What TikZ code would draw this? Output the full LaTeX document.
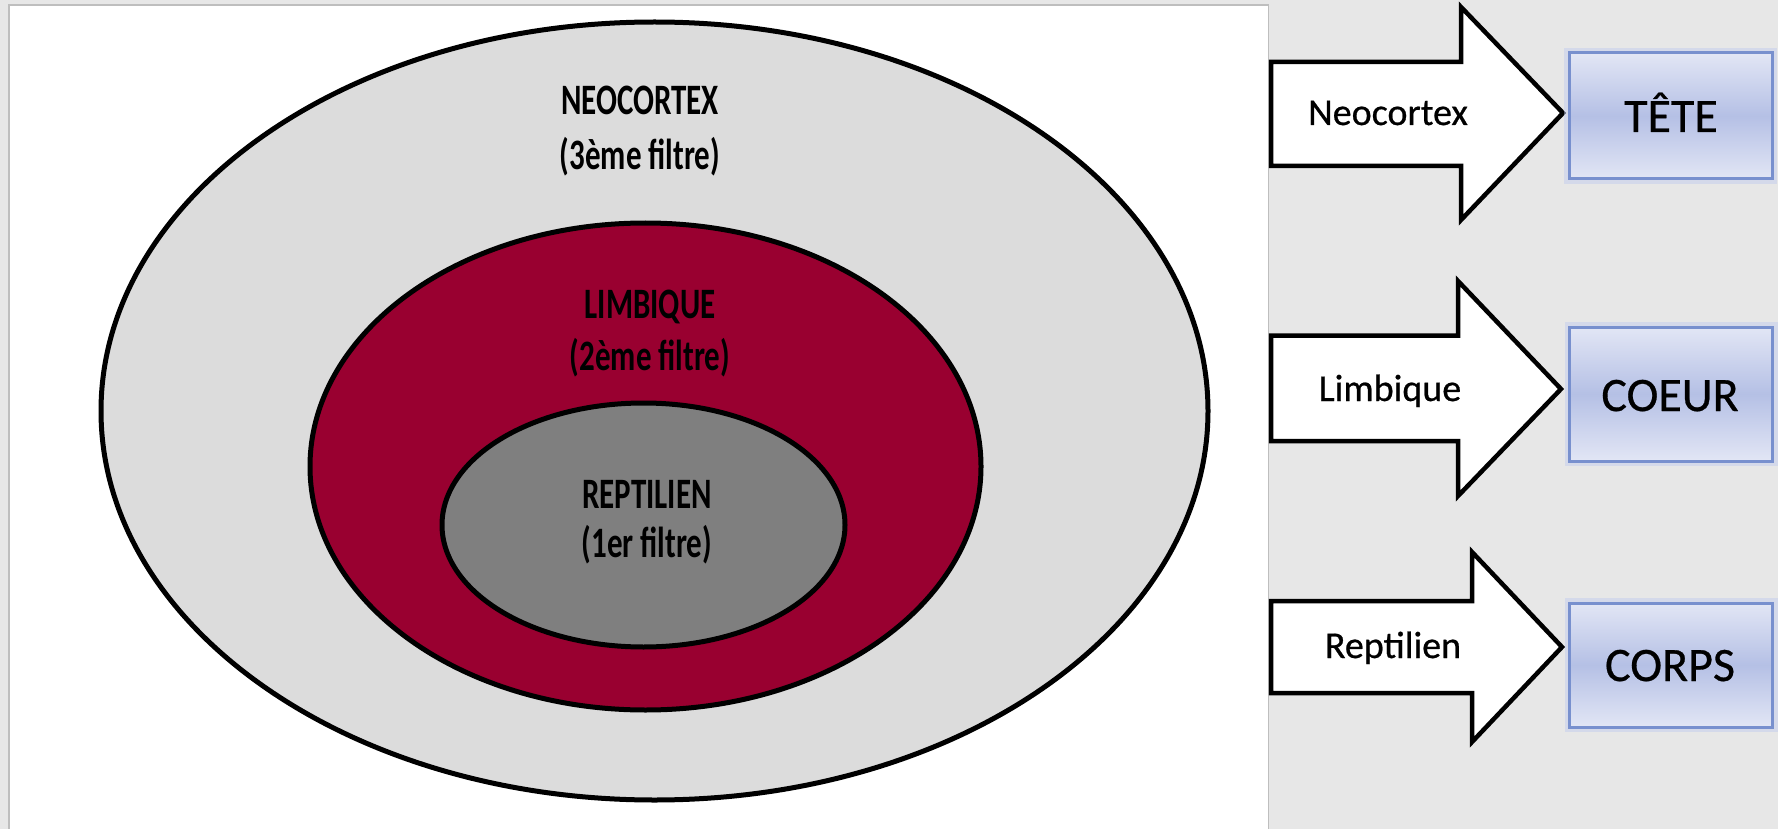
\documentclass[tikz,border=0pt]{standalone}
\usepackage{fontspec}
\setmainfont{Carlito}
\newfontfamily\heavyfont{Carlito}[FakeBold=0.6]
\usepackage{graphicx}
\usetikzlibrary{shapes.geometric}
\definecolor{bg}{RGB}{231,231,231}
\definecolor{panelborder}{RGB}{190,190,190}
\definecolor{outergray}{RGB}{220,220,220}
\definecolor{limbred}{RGB}{153,0,48}
\definecolor{reptgray}{RGB}{127,127,127}
\definecolor{boxlight}{RGB}{226,230,245}
\definecolor{boxmid}{RGB}{181,192,229}
\definecolor{boxborder}{RGB}{120,144,206}
\definecolor{boxglow}{RGB}{190,202,238}
\tikzset{
  layer/.style={ellipse, draw=black, line width=5pt, inner sep=0pt},
  lbl/.style={font=\fontsize{31}{31}\selectfont\bfseries, anchor=base, inner sep=0pt},
  arrowlbl/.style={font=\fontsize{38}{38}\selectfont\heavyfont, anchor=base, inner sep=0pt},
  boxlbl/.style={font=\fontsize{48}{48}\selectfont\heavyfont, anchor=base, inner sep=0pt},
  blockarrow/.style={draw=black, fill=white, line width=4.5pt, line join=miter},
  targetbox/.style={rectangle, draw=boxborder, line width=3pt, inner sep=0pt,
    top color=boxlight, bottom color=boxlight, middle color=boxmid,
    minimum width=203pt, minimum height=126pt,
    preaction={draw=boxglow, line width=10pt, opacity=0.45}}
}
\begin{document}
\begin{tikzpicture}[x=1pt,y=-1pt]
\useasboundingbox (0,0) rectangle (1778,829);
\fill[bg] (0,0) rectangle (1778,829);
\draw[draw=panelborder, line width=1.5pt, fill=white] (9,5) rectangle (1268.5,840);

% nested layers
\node[layer, fill=outergray, minimum width=1107pt, minimum height=778pt] (neo) at (654.5,411) {};
\node[layer, fill=limbred, minimum width=671pt, minimum height=487pt] (limb) at (645.5,466.5) {};
\node[layer, fill=reptgray, minimum width=403pt, minimum height=244pt] (rept) at (643.5,525) {};

\node[lbl] (neoA) at (640,115) {\scalebox{1}[1.4]{NEOCORTEX}};
\node[lbl] (neoB) at (640,170) {\scalebox{1}[1.4]{(3ème filtre)}};
\node[lbl] (limbA) at (650,318) {\scalebox{1}[1.4]{LIMBIQUE}};
\node[lbl] (limbB) at (650,370) {\scalebox{1}[1.4]{(2ème filtre)}};
\node[lbl] (reptA) at (647,508) {\scalebox{1}[1.4]{REPTILIEN}};
\node[lbl] (reptB) at (647,557) {\scalebox{1}[1.4]{(1er filtre)}};

% block arrows
\draw[blockarrow] (1271,62) -- (1461,62) -- (1461,7) -- (1563,113) -- (1461,220) -- (1461,166) -- (1271,166) -- cycle;
\draw[blockarrow] (1271,335.5) -- (1458,335.5) -- (1458,281) -- (1561,389) -- (1458,496) -- (1458,441) -- (1271,441) -- cycle;
\draw[blockarrow] (1271,601) -- (1472,601) -- (1472,552) -- (1562,647) -- (1472,742) -- (1472,693) -- (1271,693) -- cycle;

\node[arrowlbl] (aNeo) at (1388,125) {Neocortex};
\node[arrowlbl] (aLimb) at (1390,401) {Limbique};
\node[arrowlbl] (aRept) at (1393,658) {Reptilien};

% target boxes
\node[targetbox] (tete) at (1670.5,116) {};
\node[targetbox, minimum height=134pt] (coeur) at (1671,394) {};
\node[targetbox, minimum height=124pt] (corps) at (1671,665) {};

\node[boxlbl] (teteT) at (1671,132) {TÊTE};
\node[boxlbl] (coeurT) at (1670,411) {COEUR};
\node[boxlbl] (corpsT) at (1670,681) {CORPS};
\end{tikzpicture}
\end{document}
